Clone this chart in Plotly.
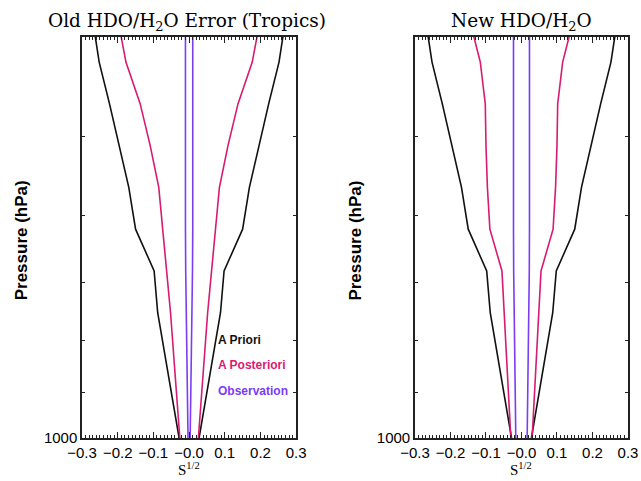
import math
import plotly.graph_objects as go

# Pressure grid (hPa) and 1-sigma error profiles for HDO/H2O
pressure = [1000.0, 908.5, 825.4, 749.9, 681.3, 619.0, 562.3, 510.9, 464.2, 421.7, 383.1]

apriori = [0.028, 0.048, 0.067, 0.088, 0.098, 0.150, 0.169, 0.195, 0.223, 0.252, 0.270]

old_posterior = [0.026, 0.034, 0.043, 0.052, 0.063, 0.075, 0.085, 0.109, 0.137, 0.177, 0.199]
old_observation = [0.003, 0.005, 0.007, 0.0085, 0.0095, 0.0102, 0.0102, 0.0102, 0.0102, 0.0102, 0.0102]

new_posterior = [0.030, 0.036, 0.042, 0.048, 0.055, 0.089, 0.096, 0.100, 0.102, 0.116, 0.146]
new_observation = [0.016, 0.018, 0.020, 0.021, 0.022, 0.0225, 0.0225, 0.0225, 0.0225, 0.0225, 0.0225]

x_ticks = [-0.3, -0.2, -0.1, 0.0, 0.1, 0.2, 0.3]
x_ticktext = ["\u22120.3", "\u22120.2", "\u22120.1", "\u22120.0", "0.1", "0.2", "0.3"]
p_ticks = [500, 600, 700, 800, 900, 1000]
p_ticktext = ["", "", "", "", "", "1000"]

BLACK = "#111111"
MAGENTA = "#D81B72"
BLUE = "#7A3CF5"

fig = go.Figure()


def add_pair(values, color, xa, ya):
    for sign in (-1, 1):
        fig.add_trace(go.Scatter(
            x=[sign * v for v in values], y=pressure, mode="lines",
            line=dict(color=color, width=1.6), xaxis=xa, yaxis=ya,
            showlegend=False, hoverinfo="skip"))


add_pair(apriori, BLACK, "x", "y")
add_pair(old_posterior, MAGENTA, "x", "y")
add_pair(old_observation, BLUE, "x", "y")

add_pair(apriori, BLACK, "x2", "y2")
add_pair(new_posterior, MAGENTA, "x2", "y2")
add_pair(new_observation, BLUE, "x2", "y2")

xaxis_style = dict(
    range=[-0.3, 0.3], tickvals=x_ticks, ticktext=x_ticktext,
    ticks="inside", ticklen=6, tickwidth=1, tickcolor="#222",
    minor=dict(dtick=0.01, ticks="inside", ticklen=3, tickcolor="#222", tickwidth=1),
    showline=True, linecolor="#222", linewidth=1.5, mirror="allticks",
    showgrid=False, zeroline=False, automargin=False,
    tickfont=dict(family="Liberation Sans", size=15, color="black"),
)
yaxis_style = dict(
    type="log", range=[3.0, 2.6], tickvals=p_ticks, ticktext=p_ticktext,
    ticks="inside", ticklen=3, tickwidth=1, tickcolor="#222",
    showline=True, linecolor="#222", linewidth=1.5, mirror="allticks",
    showgrid=False, zeroline=False, automargin=False,
    tickfont=dict(family="Liberation Sans", size=15, color="black"),
)

fig.update_layout(
    width=641, height=481,
    margin=dict(l=0, r=0, t=0, b=0, pad=0, autoexpand=False),
    paper_bgcolor="white", plot_bgcolor="white",
    xaxis=dict(domain=[0.128, 0.462], anchor="y", **xaxis_style),
    yaxis=dict(domain=[0.0894, 0.923], anchor="x", **yaxis_style),
    xaxis2=dict(domain=[0.6474, 0.9797], anchor="y2", **xaxis_style),
    yaxis2=dict(domain=[0.0894, 0.923], anchor="x2", **yaxis_style),
)

title_font = dict(family="DejaVu Serif", size=18.5, color="black")
axis_title_font = dict(family="Liberation Sans", size=17, color="black")
s_font = dict(family="Liberation Serif", size=15, color="black")
annotations = [
    dict(text="Old HDO/H<sub>2</sub>O Error (Tropics)", x=0.292, y=0.954,
         xanchor="center", yanchor="middle",
         xref="paper", yref="paper", showarrow=False, font=title_font),
    dict(text="New HDO/H<sub>2</sub>O", x=0.8135, y=0.954,
         xanchor="center", yanchor="middle",
         xref="paper", yref="paper", showarrow=False, font=title_font),
    dict(text="S<sup>1/2</sup>", x=0.295, y=0.003, xanchor="center", yanchor="bottom",
         xref="paper", yref="paper", showarrow=False, font=s_font),
    dict(text="S<sup>1/2</sup>", x=0.8135, y=0.003, xanchor="center", yanchor="bottom",
         xref="paper", yref="paper", showarrow=False, font=s_font),
    dict(text="<b>Pressure (hPa)</b>", x=0.034, y=0.5, xanchor="center", yanchor="middle",
         xref="paper", yref="paper", textangle=-90, showarrow=False, font=axis_title_font),
    dict(text="<b>Pressure (hPa)</b>", x=0.554, y=0.5, xanchor="center", yanchor="middle",
         xref="paper", yref="paper", textangle=-90, showarrow=False, font=axis_title_font),
]

legend_items = [("A Priori", BLACK, 798), ("A Posteriori", MAGENTA, 846), ("Observation", BLUE, 898)]
for label, color, p in legend_items:
    annotations.append(dict(
        text="<b>" + label + "</b>", x=0.075, y=math.log10(p),
        xref="x", yref="y", xanchor="left", yanchor="middle", showarrow=False,
        font=dict(family="Liberation Sans", size=12, color=color)))

fig.update_layout(annotations=annotations)

fig.write_html("out.html")
